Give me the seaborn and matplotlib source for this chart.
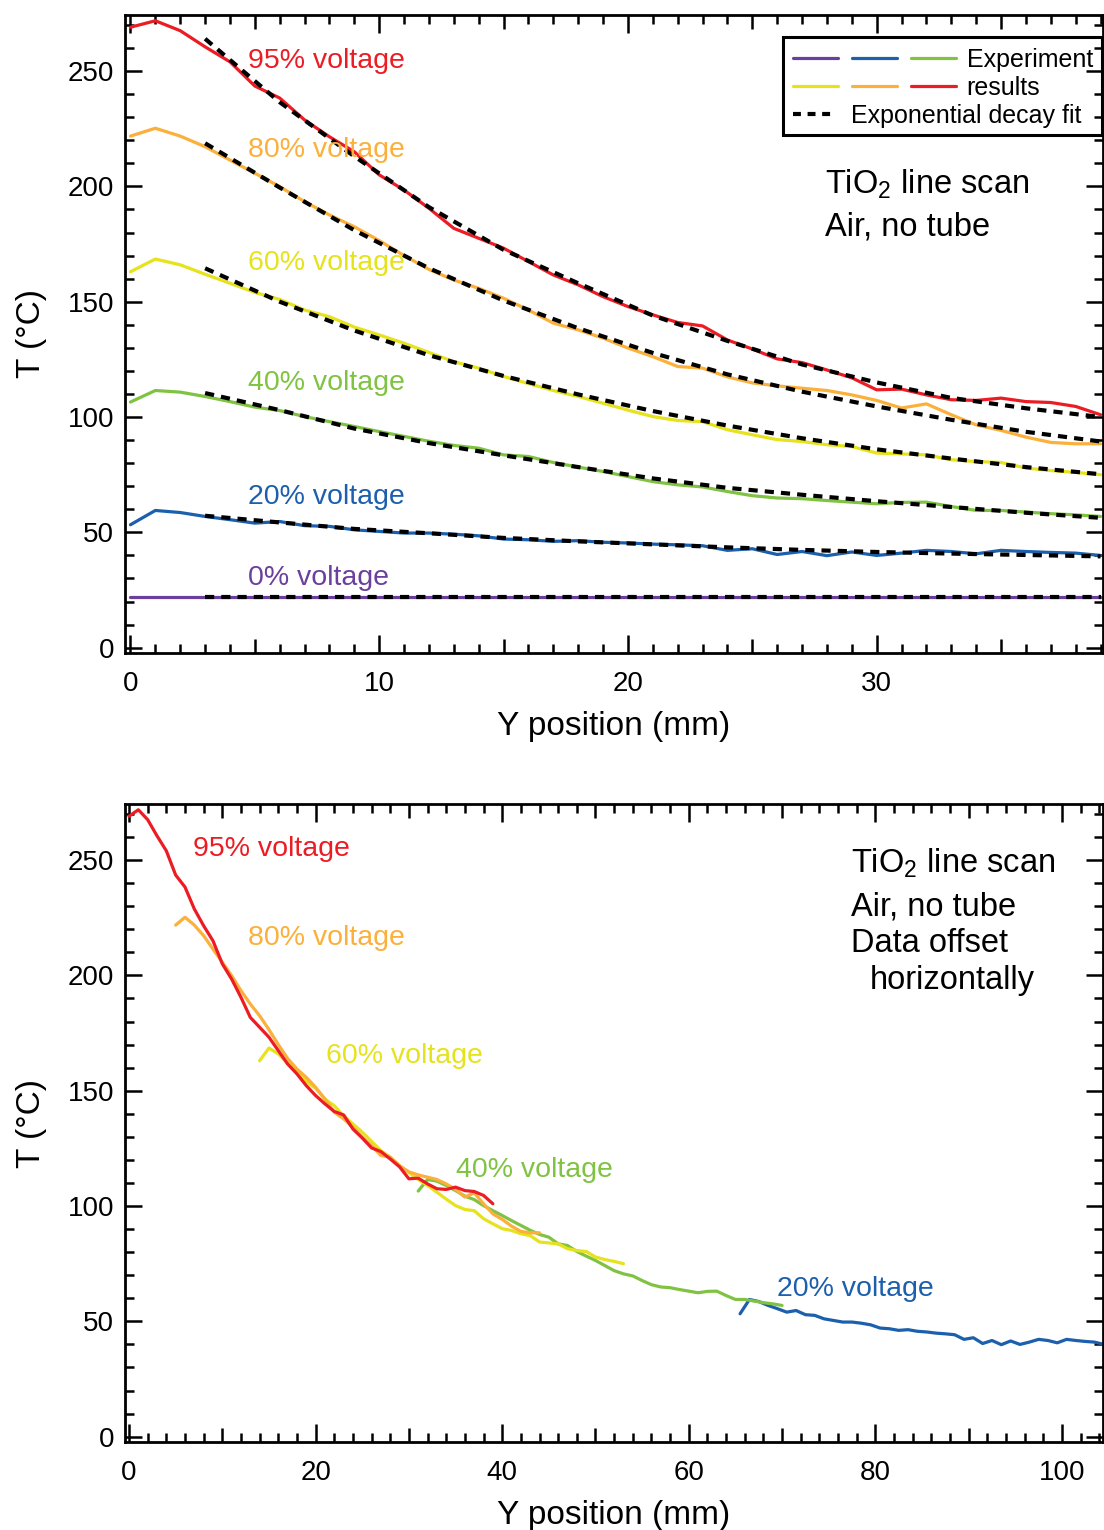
import numpy as np
import matplotlib
matplotlib.use("Agg")
import matplotlib.pyplot as plt
import seaborn as sns
from matplotlib.lines import Line2D
from matplotlib.legend_handler import HandlerTuple
from matplotlib.ticker import MultipleLocator, FuncFormatter
from matplotlib.patches import Rectangle

# ---------------- data ----------------
position_mm = list(range(40))

t_0pct = [22.1, 22.1, 22.1, 22.1, 22.1, 22.1, 22.1, 22.1, 22.1, 22.1,
          22.1, 22.1, 22.1, 22.1, 22.1, 22.1, 22.1, 22.1, 22.1, 22.1,
          22.1, 22.1, 22.1, 22.1, 22.1, 22.1, 22.1, 22.1, 22.1, 22.1,
          22.1, 22.1, 22.1, 22.1, 22.1, 22.1, 22.1, 22.1, 22.1, 22.1]
t_20pct = [53.3, 59.5, 58.6, 56.9, 55.5, 54.0, 54.7, 52.9, 52.6, 51.1,
           50.4, 49.7, 49.7, 49.2, 48.5, 47.1, 46.8, 46.1, 46.4, 45.7,
           45.4, 44.9, 44.6, 44.2, 42.2, 42.9, 40.4, 41.7, 39.9, 41.5,
           40.0, 41.0, 42.2, 41.7, 40.7, 42.2, 41.7, 41.3, 41.0, 40.0]
t_40pct = [106.5, 111.5, 110.8, 108.9, 106.7, 104.3, 102.8, 100.2, 98.0, 95.9,
           93.7, 91.6, 89.5, 87.7, 86.5, 83.6, 82.9, 80.3, 78.3, 76.4,
           74.2, 72.0, 70.6, 69.7, 67.7, 65.9, 64.9, 64.6, 63.8, 63.1,
           62.4, 63.0, 63.1, 61.2, 59.5, 59.5, 58.8, 58.1, 57.6, 56.9]
t_60pct = [163.0, 168.5, 166.0, 161.9, 158.0, 154.0, 151.0, 146.4, 143.5, 139.0,
           135.6, 132.0, 128.0, 124.0, 121.2, 117.6, 114.5, 111.5, 108.9, 106.0,
           103.0, 100.2, 98.5, 98.0, 94.5, 92.3, 90.2, 89.4, 88.0, 87.2,
           84.4, 84.0, 83.6, 81.5, 80.7, 80.3, 77.9, 76.8, 76.0, 75.0]
t_80pct = [221.8, 225.2, 221.8, 217.2, 211.4, 205.7, 199.9, 193.4, 187.6, 182.5,
           176.5, 170.0, 164.0, 159.4, 155.8, 151.5, 146.4, 140.7, 137.8, 134.2,
           129.9, 126.2, 121.9, 121.2, 117.4, 114.8, 113.5, 112.5, 111.5, 109.6,
           107.2, 103.9, 105.7, 101.0, 96.6, 94.2, 91.3, 89.0, 88.4, 88.4]
t_95pct = [269.0, 271.8, 267.5, 260.5, 254.0, 243.5, 238.3, 228.8, 221.5, 215.0,
           205.0, 198.4, 190.5, 181.8, 177.5, 173.2, 167.4, 161.6, 157.3, 152.2,
           147.9, 144.3, 141.0, 139.5, 133.4, 129.5, 125.2, 123.6, 120.4, 117.0,
           111.8, 112.1, 109.6, 107.5, 107.2, 108.2, 106.7, 106.3, 104.6, 101.0]

fit_position_mm = [3, 6, 9, 12, 15, 18, 21, 24, 27, 30, 33, 36, 39]
fit_0pct = [22.1, 22.1, 22.1, 22.1, 22.1, 22.1, 22.1, 22.1, 22.1, 22.1, 22.1, 22.1, 22.1]
fit_20pct = [57.2, 54.3, 51.5, 49.6, 47.6, 46.1, 44.8, 43.5, 42.4, 41.5, 40.8, 40.2, 39.6]
fit_40pct = [110.4, 103.0, 95.0, 88.7, 83.4, 78.3, 73.4, 69.3, 66.3, 63.5, 61.0, 58.5, 56.3]
fit_60pct = [164.5, 150.0, 137.5, 126.8, 117.8, 109.8, 102.6, 96.3, 90.8, 86.0, 82.0, 78.3, 75.2]
fit_80pct = [218.7, 199.5, 181.0, 164.5, 150.5, 138.5, 127.8, 118.5, 111.0, 104.6, 98.8, 93.6, 89.4]
fit_95pct = [264.0, 236.5, 213.0, 191.0, 172.5, 158.0, 144.0, 133.0, 122.8, 115.0, 108.3, 103.8, 100.0]

voltage_labels = ["0% voltage", "20% voltage", "40% voltage",
                  "60% voltage", "80% voltage", "95% voltage"]
# horizontal offsets used in the lower panel (mm), for 20..95 %
offset_labels = ["20% voltage", "40% voltage", "60% voltage", "80% voltage", "95% voltage"]
offsets_mm = [65.5, 31.0, 14.0, 5.0, 0.0]

# ---------------- style ----------------
PURPLE, BLUE, GREEN = "#6a3f9d", "#1b5fad", "#80c342"
YELLOW, ORANGE, RED = "#e6e21c", "#fbb03b", "#ec1c24"
colors = {"0% voltage": PURPLE, "20% voltage": BLUE, "40% voltage": GREEN,
          "60% voltage": YELLOW, "80% voltage": ORANGE, "95% voltage": RED}

sns.set_theme(style="ticks")
plt.rcParams["font.family"] = ["Liberation Sans", "DejaVu Sans"]
plt.rcParams["mathtext.fontset"] = "custom"
plt.rcParams["mathtext.rm"] = "Liberation Sans"
plt.rcParams["mathtext.it"] = "Liberation Sans:italic"
plt.rcParams["axes.linewidth"] = 2.0
plt.rcParams["axes.edgecolor"] = "black"
plt.rcParams["text.color"] = "black"
plt.rcParams["axes.labelcolor"] = "black"
plt.rcParams["xtick.color"] = "black"
plt.rcParams["ytick.color"] = "black"

W, H = 1104, 1530
fig = plt.figure(figsize=(W / 100, H / 100), dpi=100)
fig.patch.set_facecolor("white")


def px_axes(l, t, r, b):
    return fig.add_axes([l / W, 1 - b / H, (r - l) / W, (b - t) / H])


ax1 = px_axes(125, 15, 1103, 653)
ax2 = px_axes(125, 804, 1103, 1442)
for ax in (ax1, ax2):
    ax.set_facecolor("white")

series = {"0% voltage": (t_0pct, fit_0pct), "20% voltage": (t_20pct, fit_20pct),
          "40% voltage": (t_40pct, fit_40pct), "60% voltage": (t_60pct, fit_60pct),
          "80% voltage": (t_80pct, fit_80pct), "95% voltage": (t_95pct, fit_95pct)}

LW = 2.3

# ---------------- top panel ----------------
for name in voltage_labels:
    temps, fit = series[name]
    sns.lineplot(x=position_mm, y=temps, color=colors[name], lw=LW, ax=ax1,
                 zorder=2, legend=False)
for name in voltage_labels:
    temps, fit = series[name]
    sns.lineplot(x=fit_position_mm, y=fit, color="black", lw=3.0, ax=ax1,
                 zorder=3, legend=False)
    ax1.lines[-1].set_dashes([2.2, 1.7])

top_label_pos = {"95% voltage": (4.72, 254.3), "80% voltage": (4.72, 215.7),
                 "60% voltage": (4.72, 166.8), "40% voltage": (4.72, 114.8),
                 "20% voltage": (4.72, 65.4), "0% voltage": (4.72, 30.3)}
for name, (x, y) in top_label_pos.items():
    ax1.text(x, y, name, color=colors[name], fontsize=20.5, va="center", ha="left", zorder=5)

fig.text(825 / W, 1 - 194 / H, "TiO$_2$ line scan", fontsize=23.5, va="baseline", ha="left")
fig.text(825 / W, 1 - 236 / H, "Air, no tube", fontsize=23.5, va="baseline", ha="left")

# legend (two parts + frame)
hA = [(Line2D([], [], color=PURPLE, lw=LW), Line2D([], [], color=BLUE, lw=LW),
       Line2D([], [], color=GREEN, lw=LW)),
      (Line2D([], [], color=YELLOW, lw=LW), Line2D([], [], color=ORANGE, lw=LW),
       Line2D([], [], color=RED, lw=LW))]
legA = ax1.legend(hA, ["Experiment", "results"],
                  handler_map={tuple: HandlerTuple(ndivide=None, pad=0.56)},
                  loc="upper left", bbox_to_anchor=(793 / W, 1 - 48 / H),
                  bbox_transform=fig.transFigure, frameon=False, fontsize=18,
                  handlelength=6.5, handletextpad=0.45, labelspacing=0.15,
                  borderpad=0, borderaxespad=0)
ax1.add_artist(legA)
hB = Line2D([], [], color="black", lw=3.0, dashes=[1.9, 1.6])
legB = ax1.legend([hB], ["Exponential decay fit"], loc="upper left",
                  bbox_to_anchor=(793 / W, 1 - 104 / H), bbox_transform=fig.transFigure,
                  frameon=False, fontsize=18, handlelength=1.68, handletextpad=0.64,
                  borderpad=0, borderaxespad=0)
fig.add_artist(Rectangle((783 / W, 1 - 135 / H), (1102 - 783) / W, (135 - 37) / H,
                         transform=fig.transFigure, fill=False, lw=2.2,
                         edgecolor="black", zorder=10))

# ---------------- bottom panel ----------------
for name, off in zip(offset_labels, offsets_mm):
    temps, fit = series[name]
    sns.lineplot(x=np.array(position_mm) + off, y=temps, color=colors[name], lw=LW,
                 ax=ax2, zorder=2, legend=False)

bottom_label_pos = {"95% voltage": (6.86, 254.7), "80% voltage": (12.75, 216.1),
                    "60% voltage": (21.1, 165.1), "40% voltage": (35.0, 115.7),
                    "20% voltage": (69.5, 64.1)}
for name, (x, y) in bottom_label_pos.items():
    ax2.text(x, y, name, color=colors[name], fontsize=20.5, va="center", ha="left", zorder=5)

for txt, xpx, ypx in [("TiO$_2$ line scan", 851, 873), ("Air, no tube", 851, 915),
                      ("Data offset", 851, 952), ("horizontally", 870, 989)]:
    fig.text(xpx / W, 1 - ypx / H, txt, fontsize=23.5, va="baseline", ha="left")


# ---------------- axes styling ----------------
def style_axis(ax, xlim, x_med, x_long, x_minor):
    ax.set_xlim(*xlim)
    ax.set_ylim(-2.3, 274.3)
    locs = list(np.arange(0, xlim[1], x_med))
    ax.set_xticks(locs)
    ax.xaxis.set_minor_locator(MultipleLocator(x_minor))
    ax.xaxis.set_major_formatter(
        FuncFormatter(lambda v, p: f"{v:g}" if abs(v % x_long) < 1e-6 else ""))
    ax.set_yticks(np.arange(0, 251, 50))
    ax.yaxis.set_minor_locator(MultipleLocator(10))
    ax.tick_params(which="both", direction="in", top=True, right=True,
                   width=1.8, color="black")
    ax.tick_params(axis="x", which="major", length=10, labelsize=20, pad=13)
    ax.tick_params(axis="x", which="minor", length=6.5)
    ax.tick_params(axis="y", which="major", length=12.5, labelsize=20, pad=8)
    ax.tick_params(axis="y", which="minor", length=6.5)
    for t, v in zip(ax.xaxis.get_major_ticks(), locs):
        if abs(v % x_long) < 1e-6:
            t.tick1line.set_markersize(13)
            t.tick2line.set_markersize(13)
    ax.set_xlabel("Y position (mm)", fontsize=24, labelpad=10)
    ax.set_ylabel("T (°C)", fontsize=24, labelpad=15)
    for s in ax.spines.values():
        s.set_linewidth(2.0)
        s.set_color("black")


style_axis(ax1, (-0.22, 39.1), 5, 10, 1)
style_axis(ax2, (-0.43, 104.4), 10, 20, 2)

fig.savefig("out.png", dpi=100, facecolor="white")
